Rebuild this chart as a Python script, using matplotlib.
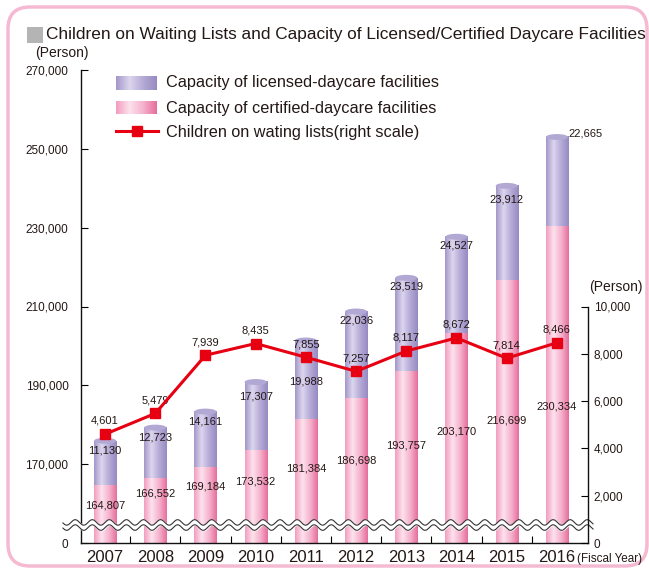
import numpy as np
import matplotlib.pyplot as plt
from matplotlib.colors import LinearSegmentedColormap
from matplotlib.patches import Ellipse, FancyBboxPatch, Rectangle

years = ['2007', '2008', '2009', '2010', '2011', '2012', '2013', '2014', '2015', '2016']
certified = [164807, 166552, 169184, 173532, 181384, 186698, 193757, 203170, 216699, 230334]
licensed = [11130, 12723, 14161, 17307, 19988, 22036, 23519, 24527, 23912, 22665]
waiting = [4601, 5479, 7939, 8435, 7855, 7257, 8117, 8672, 7814, 8466]

# where the value labels sit (left axis units)
cert_lab_y = [159391, 162436, 164213, 165482, 168781, 170812, 174619, 178172, 180964, 184517]
lic_lab_y = [173350, 176650, 180786, 187131, 190862, 206344, 214973, 225379, 237053, 253804]

plt.rcParams['font.family'] = ['Liberation Sans', 'DejaVu Sans']
txt = '#231815'
red = '#e60012'

pink_cm = LinearSegmentedColormap.from_list('pk', ['#f29cbe', '#fde2ed', '#f5b1cc', '#e66d9c'], N=128)
purp_cm = LinearSegmentedColormap.from_list('pu', ['#a397c9', '#dcd6ee', '#b4aad6', '#968ac2'], N=128)
grad = np.linspace(0, 1, 128).reshape(1, -1)

fig = plt.figure(figsize=(6.49, 5.68), dpi=100)
ax = fig.add_axes([81/649, 25/568, 507/649, 473/568])
ax2 = ax.twinx()

x = np.arange(len(years))
w = 0.44
base = 150000
cap_h = 1500
for i in x:
    top = certified[i] + licensed[i]
    ax.imshow(grad, cmap=pink_cm, aspect='auto', zorder=2,
              extent=(i - w/2, i + w/2, base, certified[i]))
    ax.imshow(grad, cmap=purp_cm, aspect='auto', zorder=2,
              extent=(i - w/2, i + w/2, certified[i], top))
    ax.add_patch(Ellipse((i, top), w, cap_h, facecolor='#b2a8d4', edgecolor='none', zorder=3))
    ax.text(i, cert_lab_y[i], f'{certified[i]:,}', ha='center', va='center',
            fontsize=8, color=txt, zorder=4)
    if i == len(years) - 1:
        ax.text(i + 0.24, lic_lab_y[i], f'{licensed[i]:,}', ha='left', va='center',
                fontsize=8, color=txt, zorder=4)
    else:
        ax.text(i, lic_lab_y[i], f'{licensed[i]:,}', ha='center', va='center',
                fontsize=8, color=txt, zorder=4)

ax2.plot(x, waiting, color=red, lw=2.2, marker='s', markersize=7, zorder=5)
for i in x:
    ax2.annotate(f'{waiting[i]:,}', (i, waiting[i]), xytext=(0, 9.5), textcoords='offset points',
                 ha='center', va='center', fontsize=8, color=txt)

# wavy break band
xs = np.linspace(-0.84, 9.72, 600)
wav = 700 * np.sin(2 * np.pi * xs / 0.34)
yc = 154568
ax.fill_between(xs, yc - 650 + wav, yc + 650 + wav, color='white', zorder=6, clip_on=False)
ax.plot(xs, yc - 650 + wav, color='#333333', lw=0.8, zorder=7, clip_on=False)
ax.plot(xs, yc + 650 + wav, color='#333333', lw=0.8, zorder=7, clip_on=False)

ax.set_xlim(-0.48, 9.62)
ax.set_ylim(base, 270000)
ax2.set_ylim(0, 20000)

yt = [150000, 170000, 190000, 210000, 230000, 250000, 270000]
ax.set_yticks(yt)
ax.set_yticklabels(['0'] + [f'{v:,}' for v in yt[1:]], fontsize=8.5, color=txt)
ax.tick_params(axis='y', direction='in', length=5, width=0.8, pad=9)
ax.set_xticks(x)
ax.set_xticklabels(years, fontsize=12, color=txt)
ax.tick_params(axis='x', length=0, pad=5)
ax.set_xticks(x[:-1] + 0.5, minor=True)
ax.tick_params(axis='x', which='minor', direction='in', length=5, width=0.8)

ax2.set_yticks([0, 2000, 4000, 6000, 8000, 10000])
ax2.set_yticklabels(['0', '2,000', '4,000', '6,000', '8,000', '10,000'], fontsize=8.5, color=txt)
ax2.tick_params(axis='y', direction='in', length=5, width=0.8, pad=4)
ax2.spines['right'].set_bounds(0, 10000)
for s in ['top', 'left', 'bottom']:
    ax2.spines[s].set_visible(False)
for s in ['top', 'right']:
    ax.spines[s].set_visible(False)
for a in (ax, ax2):
    for s in a.spines.values():
        s.set_linewidth(1.0)
        s.set_color('#111111')

# overlay in pixel units for title, legend and frame
ov = fig.add_axes([0, 0, 1, 1], zorder=10)
ov.axis('off')
ov.patch.set_alpha(0)

ov.add_patch(FancyBboxPatch((8, 7), 639, 559, boxstyle='round,pad=0,rounding_size=22',
                            facecolor='none', edgecolor='#f5bad2', lw=2.5))
ov.add_patch(Rectangle((27, 27), 16, 16, facecolor='#b4b4b4', edgecolor='none'))
ov.text(46, 35, 'Children on Waiting Lists and Capacity of Licensed/Certified Daycare Facilities',
        fontsize=12.4, ha='left', va='center', color=txt)
ov.text(35, 53, '(Person)', fontsize=10, ha='left', va='center', color=txt)
ov.text(616, 287, '(Person)', fontsize=10, ha='center', va='center', color=txt)
ov.text(577, 559, '(Fiscal Year)', fontsize=8.4, ha='left', va='center', color=txt)

ov.imshow(grad, cmap=purp_cm, aspect='auto', extent=(116, 157, 90, 76))
ov.imshow(grad, cmap=pink_cm, aspect='auto', extent=(116, 157, 114, 101))
ov.plot([116, 158], [131, 131], color=red, lw=2.2)
ov.plot([137], [131], color=red, marker='s', markersize=7)
ov.text(166, 83, 'Capacity of licensed-daycare facilities', fontsize=11.7, va='center', color=txt)
ov.text(166, 108, 'Capacity of certified-daycare facilities', fontsize=11.7, va='center', color=txt)
ov.text(166, 132, 'Children on wating lists(right scale)', fontsize=11.7, va='center', color=txt)
ov.set_xlim(0, 649)
ov.set_ylim(568, 0)

fig.savefig('out.png', dpi=100)
